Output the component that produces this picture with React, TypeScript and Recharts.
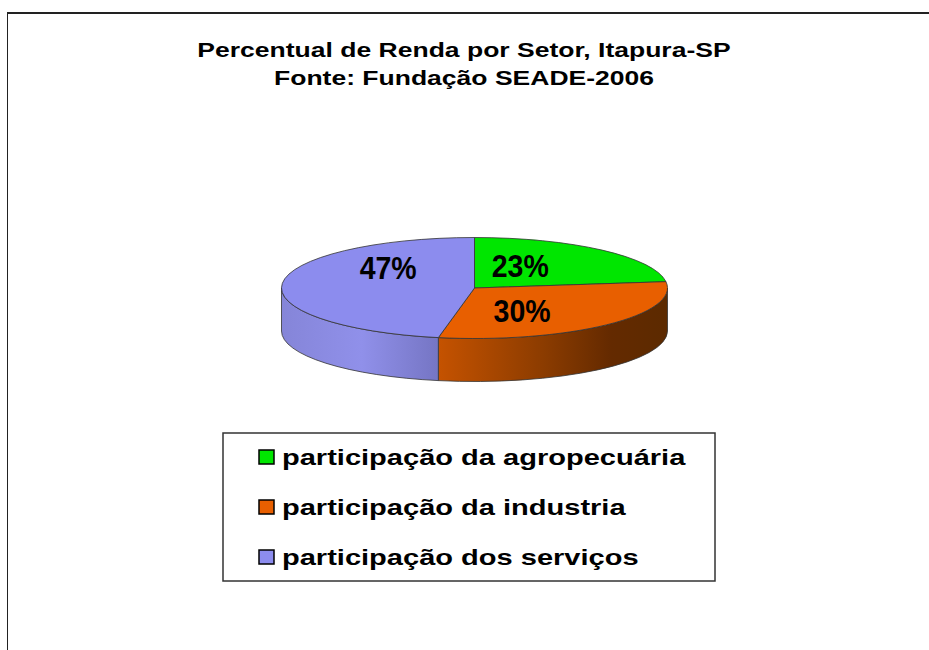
import { PieChart, Pie, Cell, Legend } from 'recharts';

const sectors = ['participação da agropecuária', 'participação da industria', 'participação dos serviços'];
const shares = [23, 30, 47];
const topColors = ['#00e600', '#e85f00', '#8c8cee'];
const titleLines = ['Percentual de Renda por Setor, Itapura-SP', 'Fonte: Fundação SEADE-2006'];

const chartData = sectors.map((name, i) => ({ name, value: shares[i] }));

const FONT = 'Arial, "Liberation Sans", sans-serif';
const TILT = 50.5 / 193; // vertical squash of the pie ellipse
const DEPTH = 43;
const RAD = Math.PI / 180;

const pt = (cx: number, cy: number, rx: number, ry: number, deg: number, dy = 0) =>
  `${cx + rx * Math.cos(deg * RAD)},${cy - ry * Math.sin(deg * RAD) + dy}`;

// draws one slice as an elliptical top face plus the visible front wall
const PieSlice3D = (props: any) => {
  const { cx, cy, outerRadius, startAngle, endAngle, index } = props;
  const rx = outerRadius;
  const ry = outerRadius * TILT;
  const hi = Math.max(startAngle, endAngle);
  const lo = Math.min(startAngle, endAngle);
  const large = hi - lo > 180 ? 1 : 0;
  const top = `M${cx},${cy} L${pt(cx, cy, rx, ry, hi)} A${rx},${ry} 0 ${large} 1 ${pt(cx, cy, rx, ry, lo)} Z`;

  // front half of the rim is between -180 and 0 degrees
  const a1 = Math.min(hi, 0);
  const a2 = Math.max(lo, -180);
  let side = null;
  if (a1 > a2) {
    const d = `M${pt(cx, cy, rx, ry, a1)} A${rx},${ry} 0 0 1 ${pt(cx, cy, rx, ry, a2)} L${pt(cx, cy, rx, ry, a2, DEPTH)} A${rx},${ry} 0 0 0 ${pt(cx, cy, rx, ry, a1, DEPTH)} Z`;
    side = <path d={d} fill={`url(#side-${index})`} stroke="#333" strokeWidth={0.8} />;
  }
  return (
    <g>
      {side}
      <path d={top} fill={topColors[index]} stroke="#333" strokeWidth={0.8} />
    </g>
  );
};

const renderLabel = (props: any) => {
  const { cx, cy, midAngle, outerRadius, percent } = props;
  const c = Math.cos(midAngle * RAD);
  const s = Math.sin(midAngle * RAD);
  const x = cx - 7 + 0.413 * outerRadius * c;
  const y = cy - 0.6 * outerRadius * TILT * s - 6 + 10.5 * c;
  return (
    <text x={x} y={y} textAnchor="middle" dominantBaseline="central" fontFamily={FONT} fontWeight="bold" fontSize={31}
      textLength={57} lengthAdjust="spacingAndGlyphs" fill="#000">
      {`${Math.round(percent * 100)}%`}
    </text>
  );
};

const renderLegend = (props: any) => {
  const payload = props.payload || [];
  return (
    <svg width={494} height={150} style={{ display: 'block' }}>
      <rect x={1} y={1} width={492} height={148} fill="#fff" stroke="#333" strokeWidth={1.5} />
      {payload.map((entry: any, i: number) => (
        <g key={`leg-${i}`}>
          <rect x={37} y={18 + i * 50} width={15} height={14} fill={topColors[i]} stroke="#000" strokeWidth={1.5} />
          <g transform={`translate(60, ${33 + i * 50}) scale(1.32, 1)`}>
            <text x={0} y={0} fontFamily={FONT} fontWeight="bold" fontSize={22} fill="#000">
              {entry.value}
            </text>
          </g>
        </g>
      ))}
    </svg>
  );
};

export default function App() {
  return (
    <div style={{ position: 'absolute', left: 0, top: 0, width: 929, height: 650, background: '#fff', overflow: 'hidden' }}>
      <div style={{ position: 'absolute', left: 7, top: 12, width: 1000, height: 1000, borderTop: '2px solid #222', borderLeft: '1.5px solid #222' }} />
      <PieChart width={929} height={650} margin={{ top: 0, right: 0, bottom: 0, left: 0 }} style={{ position: 'absolute', left: 0, top: 0 }}>
        <defs>
          <linearGradient id="side-1" gradientUnits="userSpaceOnUse" x1={440} y1={0} x2={668} y2={0}>
            <stop offset="0" stopColor="#c45200" />
            <stop offset="0.45" stopColor="#8c3c00" />
            <stop offset="0.75" stopColor="#642a00" />
            <stop offset="1" stopColor="#5c2a00" />
          </linearGradient>
          <linearGradient id="side-2" gradientUnits="userSpaceOnUse" x1={281} y1={0} x2={442} y2={0}>
            <stop offset="0" stopColor="#8585d8" />
            <stop offset="0.5" stopColor="#9090ea" />
            <stop offset="1" stopColor="#7474c2" />
          </linearGradient>
        </defs>
        {titleLines.map((line, i) => (
          <g key={`title-${i}`} transform={`translate(464, ${56.5 + i * 28.5}) scale(1.36, 1)`}>
            <text x={0} y={0} textAnchor="middle" fontFamily={FONT} fontWeight="bold" fontSize={19.5} fill="#000">
              {line}
            </text>
          </g>
        ))}
        <Pie
          data={chartData}
          dataKey="value"
          nameKey="name"
          cx={474.5}
          cy={288}
          outerRadius={193}
          startAngle={90}
          endAngle={-270}
          shape={PieSlice3D}
          label={renderLabel}
          labelLine={false}
          isAnimationActive={false}
        >
          {chartData.map((entry, index) => (
            <Cell key={`cell-${index}`} fill={topColors[index]} />
          ))}
        </Pie>
        <Legend
          content={renderLegend}
          wrapperStyle={{ position: 'absolute', left: 222, top: 432, width: 494, height: 150 }}
        />
      </PieChart>
    </div>
  );
}
